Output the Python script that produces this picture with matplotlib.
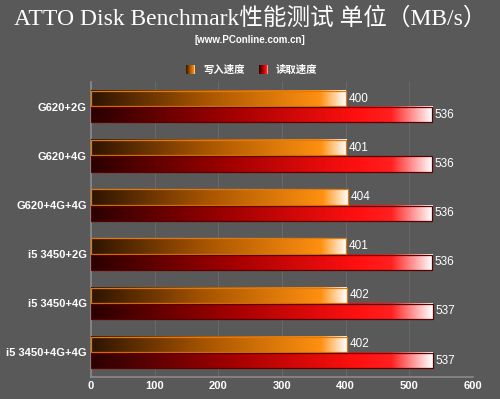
import matplotlib.pyplot as plt
import numpy as np
from matplotlib.colors import LinearSegmentedColormap

categories = ["G620+2G", "G620+4G", "G620+4G+4G", "i5 3450+2G", "i5 3450+4G", "i5 3450+4G+4G"]
write_speed = [400, 401, 404, 401, 402, 402]
read_speed = [536, 536, 536, 536, 537, 537]
xticks = [0, 100, 200, 300, 400, 500, 600]

bg = "#595959"
plt.rcParams['font.family'] = ['Liberation Sans', 'Noto Sans CJK SC']
cjk = ["Noto Sans CJK SC", "DejaVu Sans"]

orange_cmap = LinearSegmentedColormap.from_list(
    "org", [(0, "#2e1400"), (0.45, "#a85500"), (0.9, "#ff9010"), (1.0, "#ffffff")])
red_cmap = LinearSegmentedColormap.from_list(
    "red", [(0, "#2a0000"), (0.4, "#a00000"), (0.78, "#ff1010"), (0.88, "#ff2020"), (1.0, "#ffffff")])

fig = plt.figure(figsize=(5, 3.99), dpi=100, facecolor=bg)
ax = fig.add_axes([0.182, 0.055, 0.764, 0.739], facecolor=bg)

grad = np.linspace(0, 1, 256).reshape(1, -1)
h = 0.31
y = np.arange(len(categories))


def gradient_bar(x0, x1, yc, cmap, edge):
    ax.imshow(grad, cmap=cmap, aspect="auto", extent=(x0, x1, yc + h / 2, yc - h / 2),
              interpolation="bilinear", zorder=3)
    ax.add_patch(plt.Rectangle((x0, yc - h / 2), x1 - x0, h, fill=False,
                               edgecolor=edge, lw=0.9, zorder=4))


for i in range(len(categories)):
    gradient_bar(0, write_speed[i], y[i] - 0.165, orange_cmap, "#e07a10")
    gradient_bar(0, read_speed[i], y[i] + 0.165, red_cmap, "#5a0000")
    ax.text(write_speed[i] + 4, y[i] - 0.165, str(write_speed[i]), color="white",
            fontsize=8.5, va="center", ha="left", zorder=5)
    ax.text(read_speed[i] + 4, y[i] + 0.165, str(read_speed[i]), color="white",
            fontsize=8.5, va="center", ha="left", zorder=5)

ax.set_xlim(0, 600)
ax.set_ylim(len(categories) - 0.5, -0.5)
ax.set_xticks(xticks)
ax.set_xticklabels([str(t) for t in xticks], color="white", fontsize=8, fontweight="bold")
ax.set_yticks(y)
ax.set_yticklabels(categories, color="white", fontsize=8, fontweight="bold")
ax.tick_params(length=0, pad=3)
ax.xaxis.grid(True, color="#686868", lw=0.8, zorder=0)
ax.set_axisbelow(True)
for s in ["top", "right"]:
    ax.spines[s].set_visible(False)
for s in ["left", "bottom"]:
    ax.spines[s].set_color("#8a8a8a")
    ax.spines[s].set_linewidth(1.2)

fig.text(0.5, 0.953, "ATTO Disk Benchmark性能测试 单位（MB/s）", ha="center", va="center",
         color="white", fontsize=17, family=["Liberation Serif", "Noto Sans CJK SC"])
fig.text(0.5, 0.9, "[www.PConline.com.cn]", ha="center", va="center",
         color="white", fontsize=7, fontweight="bold")

# legend
lax = fig.add_axes([0.372, 0.814, 0.017, 0.022])
lax.imshow(grad, cmap=orange_cmap, aspect="auto", extent=(0, 1, 0, 1))
lax.axis("off")
fig.text(0.406, 0.826, "写入速度", color="white", fontsize=7.5, fontweight="bold",
         va="center", family=cjk)
rax = fig.add_axes([0.517, 0.814, 0.017, 0.022])
rax.imshow(grad, cmap=red_cmap, aspect="auto", extent=(0, 1, 0, 1))
rax.axis("off")
fig.text(0.551, 0.826, "读取速度", color="white", fontsize=7.5, fontweight="bold",
         va="center", family=cjk)

fig.savefig("out.png", dpi=100, facecolor=bg)
